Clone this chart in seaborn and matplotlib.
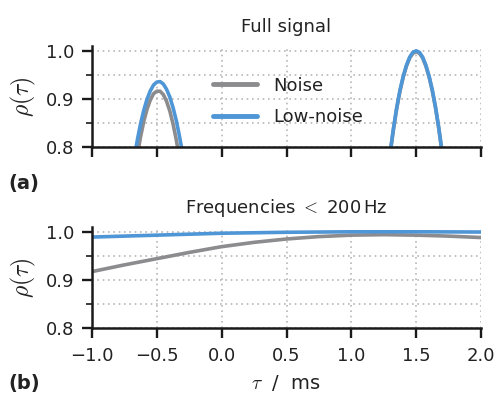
import numpy as np
import pandas as pd
import seaborn as sns
import matplotlib
matplotlib.use("Agg")
import matplotlib.pyplot as plt
from matplotlib.ticker import MultipleLocator
from matplotlib.lines import Line2D

sns.set_theme(style="white")
plt.rcParams['font.family'] = ['DejaVu Sans']
plt.rcParams['mathtext.fontset'] = 'cm'

# ---- data ----
# Full signal, first peak
peak1_tau = [-0.70, -0.675, -0.65, -0.625, -0.60, -0.575, -0.55, -0.525, -0.50,
             -0.475, -0.45, -0.425, -0.40, -0.375, -0.35, -0.325, -0.30, -0.275]
peak1_noise = [0.688, 0.739, 0.784, 0.822, 0.854, 0.879, 0.898, 0.911, 0.916,
               0.916, 0.909, 0.895, 0.875, 0.848, 0.815, 0.775, 0.729, 0.680]
peak1_lownoise = [0.731, 0.776, 0.815, 0.849, 0.877, 0.900, 0.917, 0.929, 0.935,
                  0.936, 0.931, 0.920, 0.904, 0.882, 0.855, 0.822, 0.784, 0.740]
# Full signal, second peak
peak2_tau = [1.25, 1.275, 1.30, 1.325, 1.35, 1.375, 1.40, 1.425, 1.45, 1.475, 1.50,
             1.525, 1.55, 1.575, 1.60, 1.625, 1.65, 1.675, 1.70, 1.725, 1.75]
peak2_noise = [0.669, 0.732, 0.788, 0.837, 0.880, 0.916, 0.945, 0.968, 0.985, 0.995, 0.998,
               0.995, 0.985, 0.968, 0.945, 0.916, 0.880, 0.837, 0.788, 0.732, 0.669]
peak2_lownoise = [0.671, 0.734, 0.790, 0.839, 0.882, 0.918, 0.947, 0.970, 0.987, 0.997, 1.000,
                  0.997, 0.987, 0.970, 0.947, 0.918, 0.882, 0.839, 0.790, 0.734, 0.671]
# Frequencies < 200 Hz
lp_tau = [-1.0, -0.75, -0.5, -0.25, 0.0, 0.25, 0.5, 0.75, 1.0, 1.25, 1.5, 1.75, 2.0]
lp_noise = [0.917, 0.931, 0.944, 0.957, 0.969, 0.978, 0.985, 0.990, 0.993, 0.994, 0.993, 0.991, 0.988]
lp_lownoise = [0.989, 0.991, 0.993, 0.995, 0.997, 0.998, 0.999, 0.9995, 1.0, 1.0, 1.0, 0.9998, 0.9995]

series_names = ["Noise", "Low-noise"]
colors = {"Noise": "#8c8c8f", "Low-noise": "#4f96d6"}
titles = ["Full signal", r"Frequencies $<$ 200$\,$Hz"]
panel_labels = ["(a)", "(b)"]
x_ticks = [-1.0, -0.5, 0.0, 0.5, 1.0, 1.5, 2.0]
y_ticks = [0.8, 0.9, 1.0]

fig = plt.figure(figsize=(4.97, 3.96), dpi=100)
W, H = 497, 396
ax1 = fig.add_axes([92 / W, 1 - 147 / H, (481 - 92) / W, (147 - 46) / H])
ax2 = fig.add_axes([92 / W, 1 - 327.7 / H, (481 - 92) / W, (327.7 - 227) / H])

lw = 2.6
# top panel
for tau, vals, name in [(peak1_tau, peak1_noise, "Noise"), (peak2_tau, peak2_noise, "Noise"),
                        (peak1_tau, peak1_lownoise, "Low-noise"), (peak2_tau, peak2_lownoise, "Low-noise")]:
    sns.lineplot(x=tau, y=vals, ax=ax1, color=colors[name], lw=lw,
                 estimator=None, sort=False, legend=False)
# bottom panel
sns.lineplot(x=lp_tau, y=lp_noise, ax=ax2, color=colors["Noise"], lw=lw, estimator=None, legend=False)
sns.lineplot(x=lp_tau, y=lp_lownoise, ax=ax2, color=colors["Low-noise"], lw=lw, estimator=None, legend=False)

for i, ax in enumerate([ax1, ax2]):
    ax.set_xlim(-1.0, 2.0)
    ax.set_ylim(0.8, 1.01)
    ax.set_xticks(x_ticks)
    ax.set_yticks(y_ticks)
    ax.yaxis.set_minor_locator(MultipleLocator(0.05))
    for s in ["top", "right"]:
        ax.spines[s].set_visible(False)
    for s in ["left", "bottom"]:
        ax.spines[s].set_linewidth(1.8)
        ax.spines[s].set_color("#1a1a1a")
    ax.tick_params(which="major", direction="out", length=7, width=1.7, color="#1a1a1a",
                   labelsize=13, labelcolor="#222222", left=True, bottom=True)
    ax.tick_params(which="major", axis="y", pad=6)
    ax.tick_params(which="major", axis="x", pad=7)
    ax.tick_params(which="minor", axis="y", direction="out", length=4, width=1.2,
                   color="#1a1a1a", left=True)
    ax.grid(True, which="major", axis="both", ls=(0, (1, 2.2)), color="#b8b8b8", lw=1.2)
    ax.grid(True, which="minor", axis="y", ls=(0, (1, 2.2)), color="#b8b8b8", lw=1.2)
    ax.set_axisbelow(True)
    ax.set_ylabel(r"$\rho(\tau)$", fontsize=17, color="#222222", labelpad=5)
    ax.set_title(titles[i], fontsize=13, color="#222222", pad=10)
    ax.set_yticklabels([f"{v:.1f}" for v in y_ticks])
    ax.set_xlabel("")

ax1.set_xticklabels([])
ax2.set_xticklabels([f"{v:.1f}".replace("-", "\u2212") for v in x_ticks])
ax2.set_xlabel(r"$\tau$  /  ms", fontsize=14, color="#222222", labelpad=6)

handles = [Line2D([], [], color=colors[n], lw=3.5) for n in series_names]
ax1.legend(handles, series_names, loc="center left", bbox_to_anchor=(0.27, 0.45),
           frameon=False, fontsize=13, handlelength=2.4, handletextpad=0.9,
           labelspacing=0.75, labelcolor="#222222")

fig.text(8 / W, 1 - 183 / H, panel_labels[0], fontsize=14, fontweight="bold",
         color="#222222", va="center", ha="left")
fig.text(8 / W, 1 - 383 / H, panel_labels[1], fontsize=14, fontweight="bold",
         color="#222222", va="center", ha="left")

fig.savefig("out.png", dpi=100)
